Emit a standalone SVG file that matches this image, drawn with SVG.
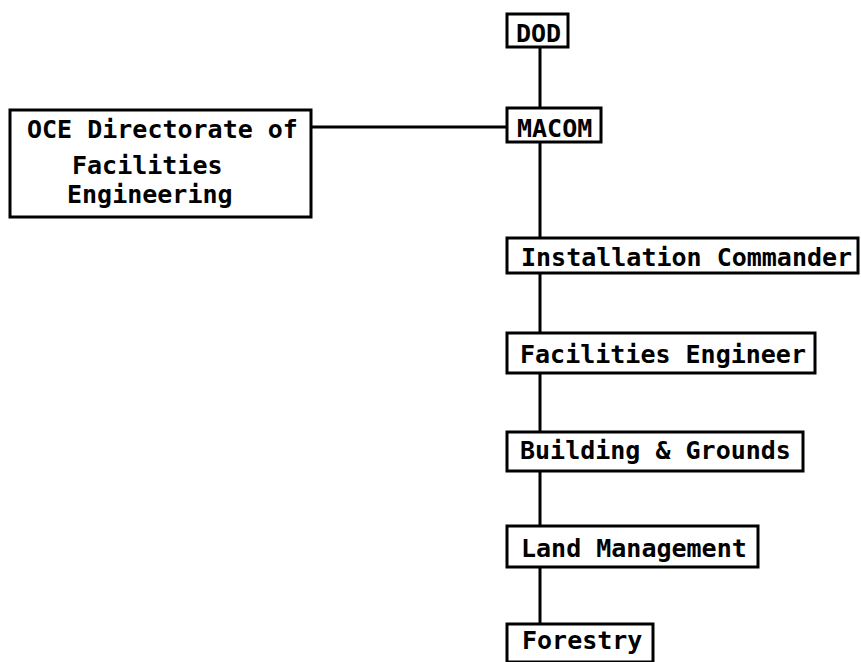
<svg xmlns="http://www.w3.org/2000/svg" width="861" height="662" viewBox="0 0 861 662">
<style>
  .box { fill: #fff; stroke: #000; stroke-width: 3; }
  .lbl { font-family: "DejaVu Sans Mono", "Liberation Mono", monospace; font-size: 25px; font-weight: bold; fill: #000; }
  .conn { stroke: #000; stroke-width: 3; fill: none; }
</style>
<rect width="861" height="662" fill="#fff"/>
<g id="connectors">
  <line class="conn" x1="540" y1="46" x2="540" y2="626"/>
  <line class="conn" x1="311" y1="127" x2="508" y2="127"/>
</g>
<g id="dod">
  <rect class="box" x="507" y="14" width="61" height="33"/>
  <text class="lbl" x="516" y="42">DOD</text>
</g>
<g id="macom">
  <rect class="box" x="507" y="108" width="94" height="34"/>
  <text class="lbl" x="517" y="137">MACOM</text>
</g>
<g id="oce">
  <rect class="box" x="10" y="110" width="301" height="107"/>
  <text class="lbl" x="27" y="138">OCE Directorate of</text>
  <text class="lbl" x="72" y="174">Facilities</text>
  <text class="lbl" x="67" y="203">Engineering</text>
</g>
<g id="installation-commander">
  <rect class="box" x="507" y="238" width="351" height="35"/>
  <text class="lbl" x="521" y="266">Installation Commander</text>
</g>
<g id="facilities-engineer">
  <rect class="box" x="507" y="333" width="308" height="40"/>
  <text class="lbl" x="520" y="363">Facilities Engineer</text>
</g>
<g id="building-grounds">
  <rect class="box" x="507" y="432" width="296" height="39"/>
  <text class="lbl" x="520" y="459">Building &amp; Grounds</text>
</g>
<g id="land-management">
  <rect class="box" x="507" y="526" width="251" height="41"/>
  <text class="lbl" x="521" y="557">Land Management</text>
</g>
<g id="forestry">
  <rect class="box" x="507" y="624" width="146" height="38"/>
  <text class="lbl" x="522" y="649">Forestry</text>
</g>
</svg>
